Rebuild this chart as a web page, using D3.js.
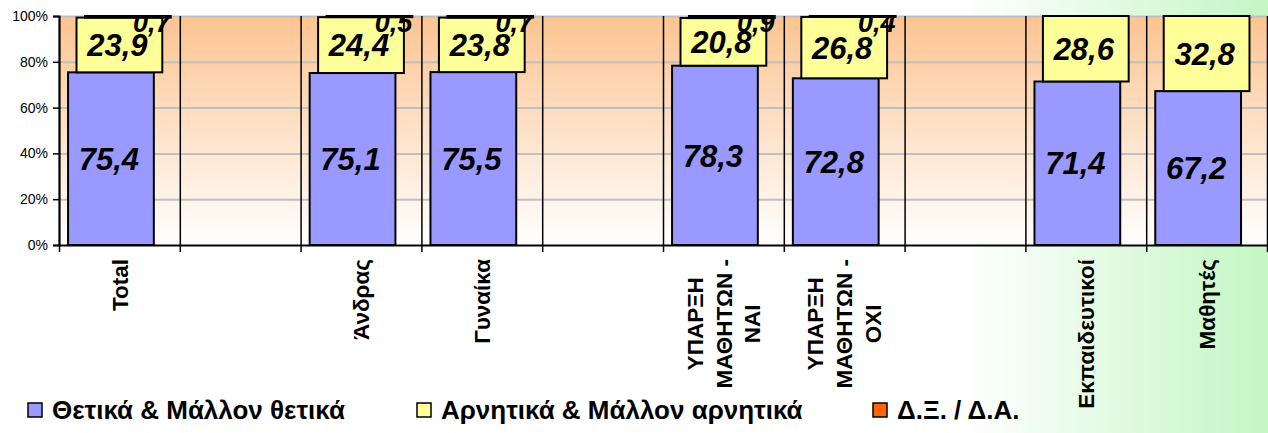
<!DOCTYPE html>
<html>
<head>
<meta charset="utf-8">
<script src="https://cdn.jsdelivr.net/npm/d3@7"></script>
<style>
body { margin: 0; background: #fff; }
svg { display: block; font-family: Arial, "Liberation Sans", sans-serif; }
</style>
</head>
<body>
<div id="chart"></div>
<script>
// chart values
var categories = ["Total", "", "Άνδρας", "Γυναίκα", "", "ΥΠΑΡΞΗ\nΜΑΘΗΤΩΝ -\nΝΑΙ", "ΥΠΑΡΞΗ\nΜΑΘΗΤΩΝ -\nΟΧΙ", "", "Εκπαιδευτικοί", "Μαθητές"];
var positive = [75.4, null, 75.1, 75.5, null, 78.3, 72.8, null, 71.4, 67.2];
var negative = [23.9, null, 24.4, 23.8, null, 20.8, 26.8, null, 28.6, 32.8];
var dkna = [0.7, null, 0.5, 0.7, null, 0.9, 0.4, null, null, null];
var seriesNames = ["Θετικά & Μάλλον θετικά", "Αρνητικά & Μάλλον αρνητικά", "Δ.Ξ. / Δ.Α."];
var seriesColors = ["#9999FF", "#FFFF99", "#FF6600"];
var yTicks = [0, 20, 40, 60, 80, 100];

var width = 1268,
  height = 433,
  margin = {top: 16, right: 1, bottom: 188, left: 59},
  w = width - margin.left - margin.right,
  h = height - margin.top - margin.bottom;

var svg = d3.select("#chart").append("svg")
  .attr("width", width)
  .attr("height", height);

var defs = svg.append("defs");

var outerGrad = defs.append("linearGradient")
  .attr("id", "outerGrad")
  .attr("x1", "0").attr("x2", "1").attr("y1", "0").attr("y2", "0");
outerGrad.append("stop").attr("offset", "0").attr("stop-color", "#ffffff");
outerGrad.append("stop").attr("offset", "0.76").attr("stop-color", "#ffffff");
outerGrad.append("stop").attr("offset", "1").attr("stop-color", "#c4f6c4");

var plotGrad = defs.append("linearGradient")
  .attr("id", "plotGrad")
  .attr("x1", "0").attr("x2", "0").attr("y1", "0").attr("y2", "1");
plotGrad.append("stop").attr("offset", "0").attr("stop-color", "#fcc491");
plotGrad.append("stop").attr("offset", "1").attr("stop-color", "#ffffff");

defs.append("clipPath").attr("id", "plotClip")
  .append("rect").attr("width", w).attr("height", h);

svg.append("rect")
  .attr("width", width)
  .attr("height", height)
  .attr("fill", "url(#outerGrad)");

var g = svg.append("g")
  .attr("transform", "translate(" + margin.left + "," + margin.top + ")");

var x = d3.scaleBand()
  .domain(d3.range(categories.length))
  .range([0, w]);

var xEdge = d3.scaleLinear()
  .domain([0, categories.length])
  .range([0, w]);

var y = d3.scaleLinear()
  .domain([0, 100])
  .range([h, 0]);

g.append("rect")
  .attr("width", w)
  .attr("height", h)
  .attr("fill", "url(#plotGrad)");

// horizontal gridlines
g.append("g")
  .call(d3.axisLeft(y).tickValues(yTicks.slice(1)).tickSize(-w).tickFormat(""))
  .call(function(s) {
    s.select(".domain").remove();
    s.selectAll("line").attr("stroke", "#c0c0c0").attr("stroke-width", 2);
  });

// vertical lines between categories
g.append("g")
  .attr("transform", "translate(0," + h + ")")
  .call(d3.axisBottom(xEdge).tickValues(d3.range(categories.length + 1)).tickSize(-h).tickFormat(""))
  .call(function(s) {
    s.select(".domain").remove();
    s.selectAll("line").attr("stroke", "#000").attr("stroke-width", 1.5);
  });

// stacked segments, each series shifted a little to the right
var barW = x.bandwidth() * 0.71,
  shift = x.bandwidth() * 0.07,
  pad = (x.bandwidth() - barW - 2 * shift) / 2;

var series = [positive, negative, dkna];
var segs = [];
categories.forEach(function(c, i) {
  var base = 0;
  series.forEach(function(vals, k) {
    var v = vals[i];
    if (v) {
      segs.push({i: i, k: k, v: v, y0: base, y1: base + v});
      base += v;
    }
  });
});

g.selectAll(".seg")
  .data(segs)
  .enter().append("rect")
  .attr("class", "seg")
  .attr("x", function(d) { return x(d.i) + pad + d.k * shift; })
  .attr("y", function(d) { return y(d.y1); })
  .attr("width", barW)
  .attr("height", function(d) { return y(d.y0) - y(d.y1); })
  .attr("fill", function(d) { return seriesColors[d.k]; })
  .attr("stroke", "#000")
  .attr("stroke-width", 2);

var fmt = function(v) { return String(v.toFixed(1)).replace(".", ","); };

// value labels
var labels = g.append("g").attr("clip-path", "url(#plotClip)");
labels.selectAll("text")
  .data(segs)
  .enter().append("text")
  .attr("x", function(d) {
    var cx = x(d.i) + pad + d.k * shift + barW / 2;
    return d.k == 2 ? cx + 24 : cx - 2;
  })
  .attr("y", function(d) { return d.k == 2 ? y(100) + 16 : y((d.y0 + d.y1) / 2); })
  .attr("dy", function(d) { return d.k == 2 ? "0" : "0.36em"; })
  .attr("text-anchor", "middle")
  .style("font-size", function(d) { return d.k == 2 ? "27px" : "31px"; })
  .style("font-weight", "bold")
  .style("font-style", "italic")
  .text(function(d) { return fmt(d.v); });

// y axis
g.append("g")
  .call(d3.axisLeft(y).tickValues(yTicks).tickSize(6).tickPadding(5).tickFormat(function(d) { return d + "%"; }))
  .call(function(s) {
    s.select(".domain").attr("stroke", "#000").attr("stroke-width", 2);
    s.selectAll("line").attr("stroke", "#000").attr("stroke-width", 1.5);
    s.selectAll("text").style("font-size", "14px").attr("fill", "#000");
  });

// x axis with ticks on category edges
g.append("g")
  .attr("transform", "translate(0," + h + ")")
  .call(d3.axisBottom(xEdge).tickValues(d3.range(categories.length + 1)).tickSize(7).tickSizeOuter(0).tickFormat(""))
  .call(function(s) {
    s.select(".domain").attr("stroke", "#000").attr("stroke-width", 2);
    s.selectAll("line").attr("stroke", "#000").attr("stroke-width", 1.5);
  });

// rotated category labels
var lineGap = 29;
categories.forEach(function(c, i) {
  if (!c) return;
  var lines = c.split("\n");
  var lab = g.append("g")
    .attr("transform", "translate(" + (x(i) + x.bandwidth() / 2) + "," + (h + 14) + ") rotate(-90)");
  var texts = lab.selectAll("text")
    .data(lines)
    .enter().append("text")
    .attr("y", function(d, j) { return (j - (lines.length - 1) / 2) * lineGap; })
    .attr("dy", "0.36em")
    .attr("text-anchor", "middle")
    .style("font-size", "22.5px")
    .style("font-weight", "bold")
    .text(function(d) { return d; });
  var maxLen = d3.max(texts.nodes(), function(n) { return n.getComputedTextLength(); });
  texts.attr("x", -maxLen / 2);
});

// legend
var legendX = [28, 417, 873];
var legend = svg.selectAll(".legend")
  .data(seriesNames)
  .enter().append("g")
  .attr("class", "legend")
  .attr("transform", function(d, i) { return "translate(" + legendX[i] + ",403)"; });

legend.append("rect")
  .attr("width", 14)
  .attr("height", 14)
  .attr("fill", function(d, i) { return seriesColors[i]; })
  .attr("stroke", "#000")
  .attr("stroke-width", 1.5);

legend.append("text")
  .attr("x", 24)
  .attr("y", 16)
  .style("font-size", "26px")
  .style("font-weight", "bold")
  .text(function(d) { return d; });
</script>
</body>
</html>
